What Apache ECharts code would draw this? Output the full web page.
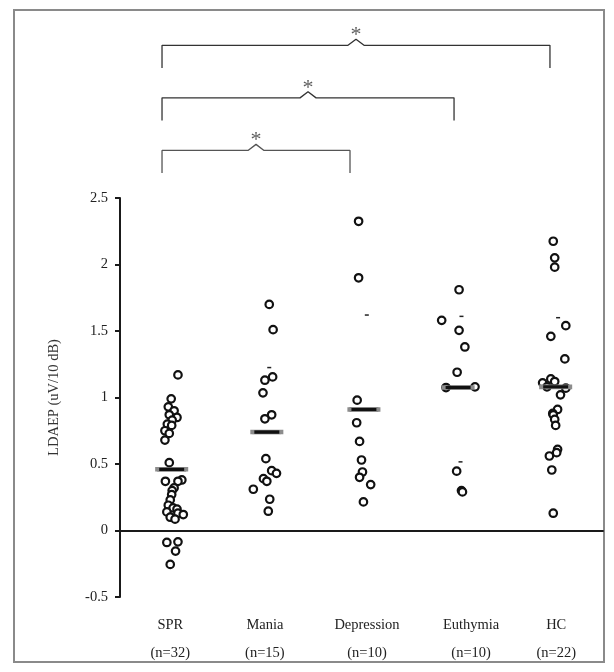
<!DOCTYPE html>
<html><head><meta charset="utf-8">
<script src="https://cdn.jsdelivr.net/npm/echarts/dist/echarts.min.js"></script>
<style>html,body{margin:0;padding:0;background:#fff}#c{width:614px;height:672px}</style>
</head><body><div id="c"></div>
<script>
// ---------- data ----------
const categories = ['SPR', 'Mania', 'Depression', 'Euthymia', 'HC'];
const sampleSizes = [32, 15, 10, 10, 22];

const sprValues  = [1.17, 0.99, 0.93, 0.90, 0.87, 0.85, 0.83, 0.80, 0.79, 0.75, 0.73, 0.68, 0.51, 0.38, 0.37, 0.37,
                    0.32, 0.30, 0.27, 0.23, 0.19, 0.17, 0.16, 0.14, 0.13, 0.12, 0.10, 0.085, -0.09, -0.085, -0.155, -0.255];
const sprOffsets = [0.10, 0.03, 0.00, 0.06, 0.01, 0.09, 0.04, -0.01, 0.035, -0.035, 0.01, -0.035, 0.01, 0.14, -0.03, 0.10,
                    0.06, 0.04, 0.035, 0.02, 0.00, 0.05, 0.09, -0.015, 0.10, 0.155, 0.02, 0.07, -0.015, 0.10, 0.075, 0.02];

const maniaValues  = [1.70, 1.51, 1.155, 1.13, 1.035, 0.87, 0.84, 0.54, 0.45, 0.43, 0.39, 0.37, 0.31, 0.235, 0.145];
const maniaOffsets = [0.045, 0.085, 0.08, 0.00, -0.02, 0.07, 0.00, 0.01, 0.07, 0.12, -0.015, 0.02, -0.12, 0.05, 0.035];

const depressionValues  = [2.325, 1.90, 0.98, 0.81, 0.67, 0.53, 0.44, 0.40, 0.345, 0.215];
const depressionOffsets = [-0.03, -0.03, -0.045, -0.05, -0.02, 0.00, 0.01, -0.02, 0.095, 0.02];

const euthymiaValues  = [1.81, 1.58, 1.505, 1.38, 1.19, 1.08, 1.075, 0.446, 0.30, 0.29];
const euthymiaOffsets = [0.01, -0.17, 0.01, 0.07, -0.01, 0.175, -0.125, -0.015, 0.035, 0.045];

const hcValues  = [2.175, 2.05, 1.98, 1.54, 1.46, 1.29, 1.14, 1.12, 1.11, 1.08, 1.07, 1.02, 0.91, 0.88, 0.87, 0.835,
                   0.79, 0.61, 0.585, 0.56, 0.455, 0.13];
const hcOffsets = [-0.015, 0.00, 0.00, 0.115, -0.04, 0.105, -0.04, 0.00, -0.125, -0.08, 0.115, 0.06, 0.03, -0.02, -0.015, 0.00,
                   0.01, 0.03, 0.02, -0.055, -0.03, -0.015];

const meanValues  = [0.46, 0.74, 0.91, 1.075, 1.08];
const meanOffsets = [0.035, 0.02, 0.025, 0.00, 0.01];

// small dash marks above/below groups
const dashGroups  = [1, 2, 3, 3, 4];
const dashValues  = [1.225, 1.62, 1.61, 0.516, 1.60];
const dashOffsets = [0.045, 0.055, 0.035, 0.025, 0.035];

// significance brackets (positions in category units, level = stacking row)
const bracketFrom  = [-0.065, -0.065, -0.065];
const bracketTo    = [1.881, 2.958, 3.951];
const bracketLevel = [1, 2, 3];
const bracketMark  = ['*', '*', '*'];

const yTickMin = -0.5, yTickMax = 2.5, yTickStep = 0.5;

// ---------- styling ----------
const SERIF = '"Liberation Serif", "DejaVu Serif", serif';
const labelShift = [2, 0, 5.5, 13, 1.5];   // px shift of category labels
const groupValues  = [sprValues, maniaValues, depressionValues, euthymiaValues, hcValues];
const groupOffsets = [sprOffsets, maniaOffsets, depressionOffsets, euthymiaOffsets, hcOffsets];

const series = [];
groupValues.forEach((vals, gi) => {
  series.push({
    name: categories[gi], type: 'scatter', xAxisIndex: 0, yAxisIndex: 0,
    symbol: 'circle', symbolSize: 7.5,
    itemStyle: { color: '#fff', borderColor: '#111', borderWidth: 2.2, opacity: 1 },
    data: vals.map((v, j) => [gi + groupOffsets[gi][j], v]),
    z: 3, silent: true
  });
});
series.push({
  name: 'mean', type: 'scatter', xAxisIndex: 0, yAxisIndex: 0,
  symbol: 'rect', symbolSize: [29, 4],
  itemStyle: { color: '#111', borderColor: '#8c8c8c', borderWidth: 1.5, opacity: 1 },
  data: meanValues.map((v, i) => [i + meanOffsets[i], v]),
  z: 4, silent: true
});
series.push({
  name: 'dash', type: 'scatter', xAxisIndex: 0, yAxisIndex: 0,
  symbol: 'rect', symbolSize: [4, 1.5],
  itemStyle: { color: '#222', opacity: 1 },
  data: dashValues.map((v, i) => [dashGroups[i] + dashOffsets[i], v]),
  z: 4, silent: true
});

const caretHalf = 0.083, caretH = 0.115, drop = 0.43;
bracketLevel.forEach((L, i) => {
  const a = bracketFrom[i], b = bracketTo[i], m = (a + b) / 2;
  series.push({
    type: 'line', xAxisIndex: 1, yAxisIndex: 1, symbol: 'none', silent: true,
    lineStyle: { color: i === 0 ? '#555' : '#333', width: 1.3 },
    data: [[a, L - drop], [a, L], [m - caretHalf, L], [m, L + caretH], [m + caretHalf, L], [b, L], [b, L - drop]],
    animation: false
  });
  series.push({
    type: 'scatter', xAxisIndex: 1, yAxisIndex: 1, symbol: 'circle', symbolSize: 2, silent: true,
    itemStyle: { color: 'rgba(255,255,255,0)', borderWidth: 0 },
    data: [[m, L + caretH]],
    label: { show: true, position: 'top', distance: -8, formatter: bracketMark[i],
             fontFamily: SERIF, fontSize: 22, color: '#333' }
  });
});

const rich = {};
labelShift.forEach((s, i) => {
  rich['p' + i] = { fontFamily: SERIF, fontSize: 14.5, color: '#222', lineHeight: 28, padding: [0, 0, 0, 2 * s] };
});

const option = {
  backgroundColor: '#fff',
  animation: false,
  grid: [
    { left: 120, right: 11, top: 198, bottom: 75, containLabel: false },
    { left: 120, right: 11, top: 19, height: 184, containLabel: false }
  ],
  xAxis: [
    { type: 'value', gridIndex: 0, min: -0.5, max: 4.5,
      axisLine: { show: true, onZero: true, lineStyle: { color: '#1a1a1a', width: 2 } },
      axisTick: { show: false }, axisLabel: { show: false }, splitLine: { show: false } },
    { type: 'value', gridIndex: 1, min: -0.5, max: 4.5, show: false },
    { type: 'category', gridIndex: 0, data: categories, position: 'bottom', boundaryGap: true,
      axisLine: { show: false, onZero: false }, axisTick: { show: false }, splitLine: { show: false },
      axisLabel: { margin: 14, interval: 0,
        formatter: (c, i) => `{p${i}|${c}}\n{p${i}|(n=${sampleSizes[i]})}`, rich } }
  ],
  yAxis: [
    { type: 'value', gridIndex: 0, min: yTickMin, max: yTickMax, interval: yTickStep,
      name: 'LDAEP (uV/10 dB)', nameLocation: 'middle', nameGap: 58, nameRotate: 90,
      nameTextStyle: { fontFamily: SERIF, fontSize: 14.5, color: '#333' },
      axisLine: { show: true, onZero: false, lineStyle: { color: '#1a1a1a', width: 2 } },
      axisTick: { show: true, length: 5, lineStyle: { color: '#1a1a1a', width: 2 } },
      axisLabel: { margin: 12, fontFamily: SERIF, fontSize: 14.5, color: '#222' },
      splitLine: { show: false } },
    { type: 'value', gridIndex: 1, min: 0, max: 3.5, show: false }
  ],
  graphic: [
    { type: 'rect', shape: { x: 14, y: 10, width: 590, height: 652 },
      style: { fill: 'none', stroke: '#8a8a8a', lineWidth: 2 }, silent: true, z: 0 }
  ],
  series
};

const chart = echarts.init(document.getElementById('c'), null, { renderer: 'canvas' });
chart.setOption(option);
</script></body></html>
